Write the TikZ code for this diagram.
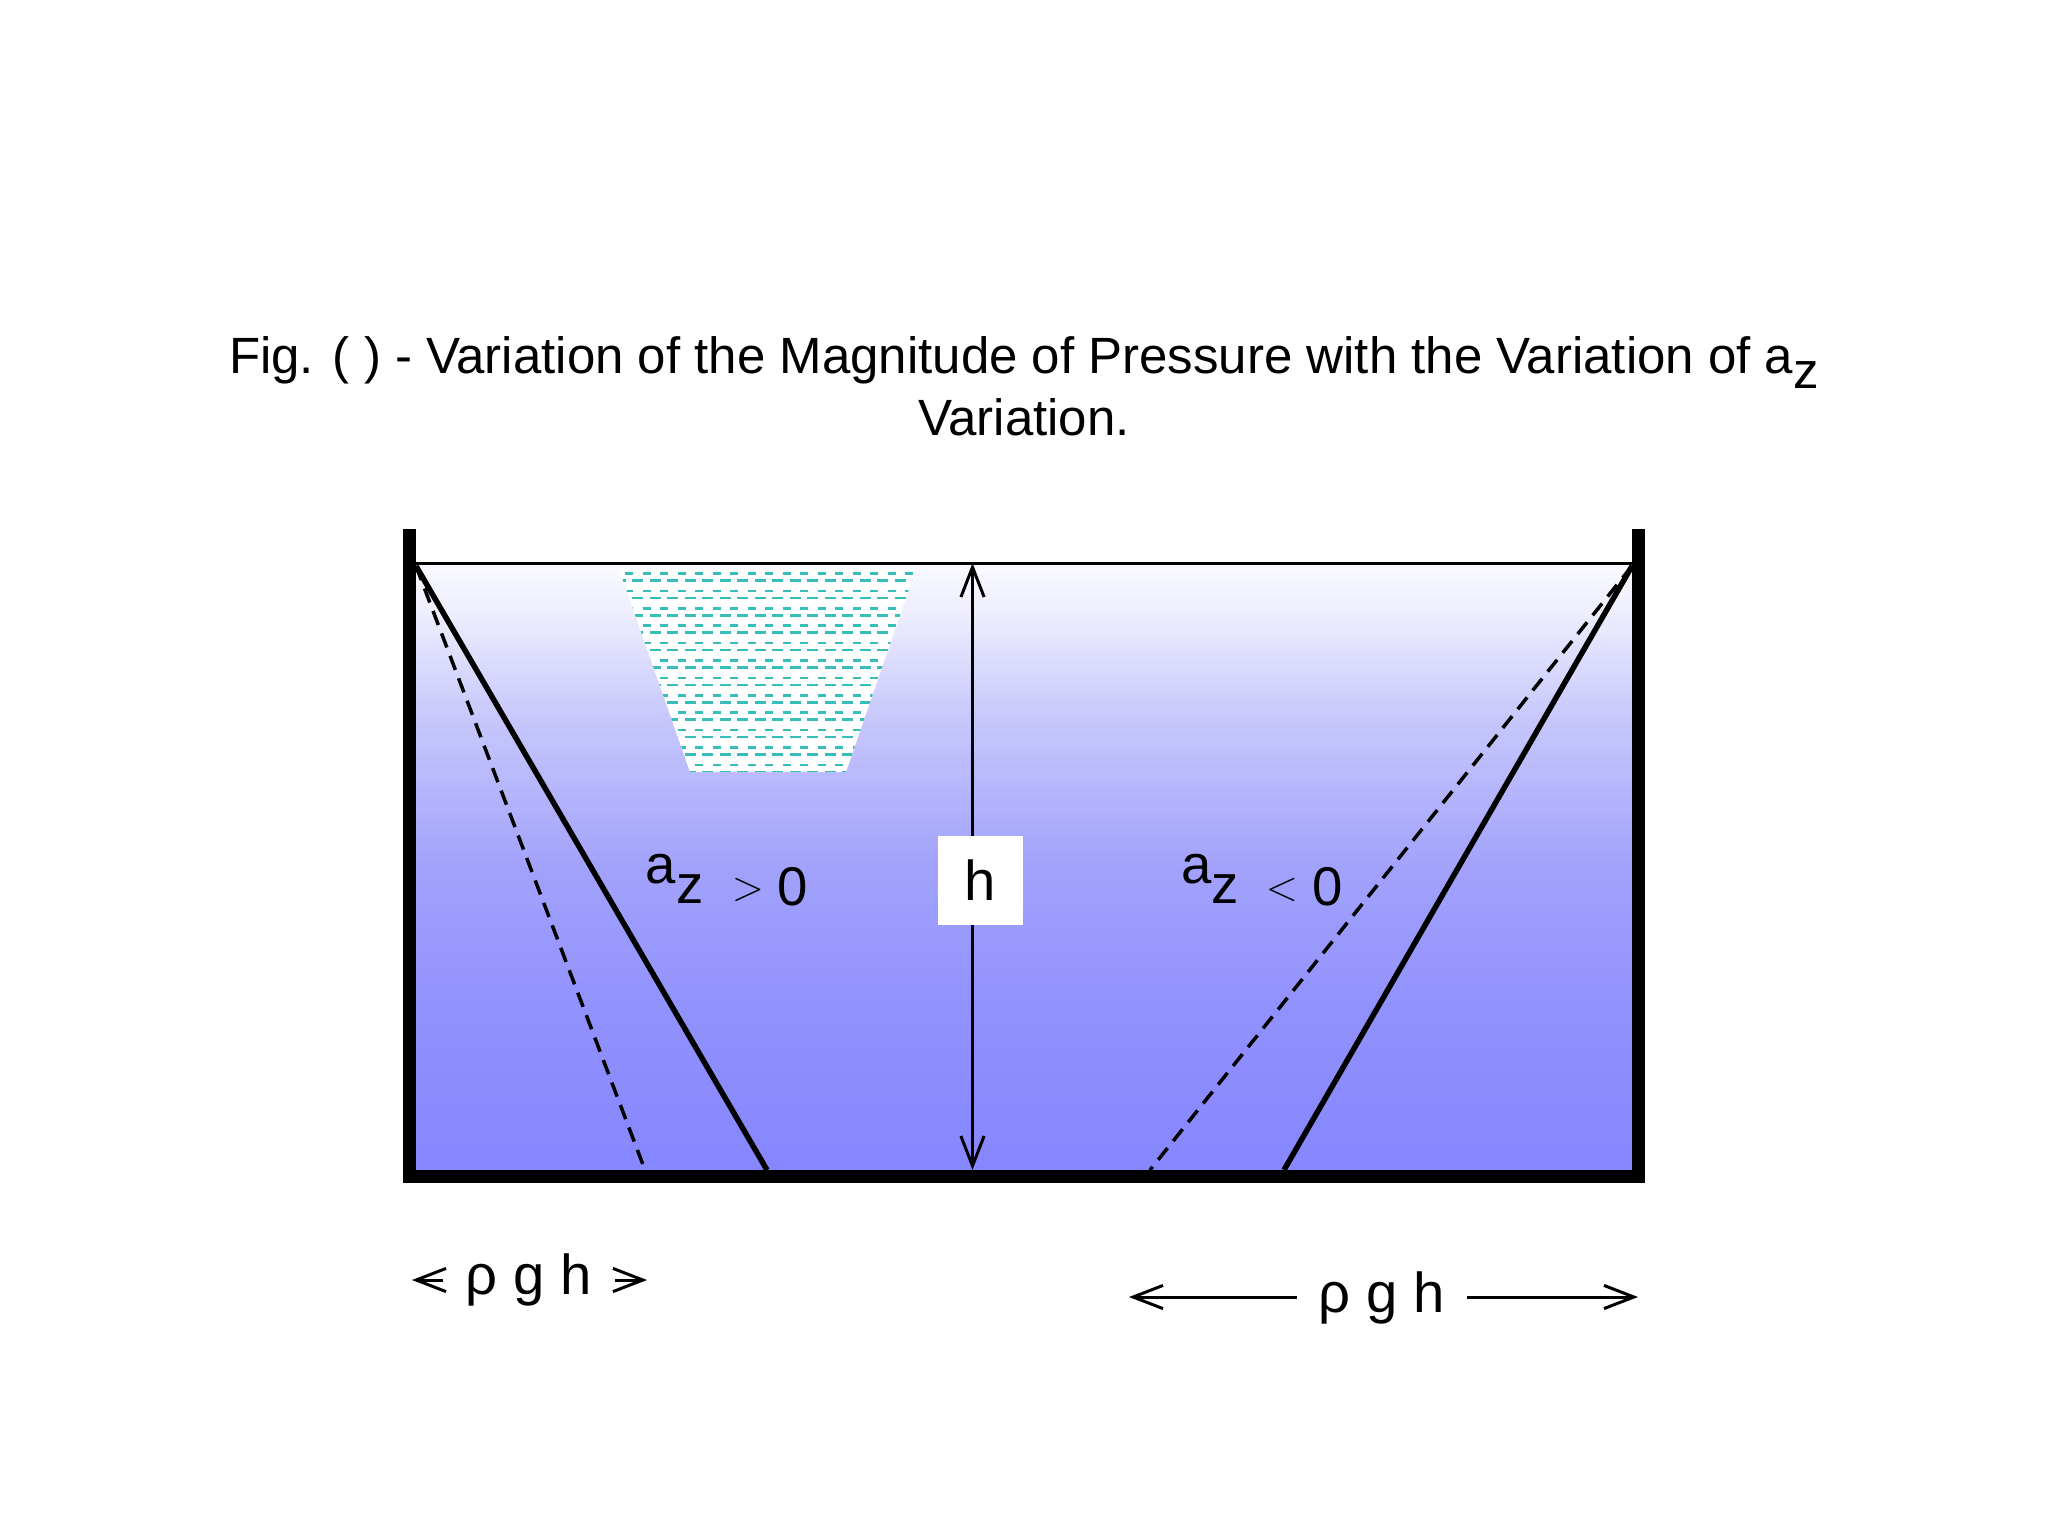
\documentclass[tikz,border=0pt]{standalone}
\usepackage{fontspec}
\setmainfont{Liberation Sans}
\usetikzlibrary{arrows.meta}
\definecolor{wc0}{RGB}{250,250,255}
\definecolor{wc1}{RGB}{238,238,254}
\definecolor{wc2}{RGB}{200,200,252}
\definecolor{wc3}{RGB}{162,162,252}
\definecolor{wc4}{RGB}{144,144,254}
\definecolor{wc5}{RGB}{134,134,255}
\definecolor{hatchc}{RGB}{56,190,184}
\pgfdeclareverticalshading{watershade}{100bp}{color(0bp)=(wc5); color(25bp)=(wc5); color(37.5bp)=(wc4); color(50bp)=(wc3); color(62.5bp)=(wc2); color(71bp)=(wc1); color(75bp)=(wc0); color(100bp)=(wc0)}
\tikzset{
  wall/.style={line width=3.7pt, line cap=butt, line join=miter},
  surf/.style={line width=0.85pt},
  presline/.style={line width=1.56pt},
  presdash/.style={line width=1pt, dash pattern=on 4.27pt off 2.56pt},
  hatchA/.style={hatchc, line width=0.72pt, dash pattern=on 2.28pt off 2.7pt},
  hatchB/.style={hatchc, line width=0.72pt, dash pattern=on 3.13pt off 1.85pt},
  tipb/.tip={Straight Barb[length=8.5pt,width=6.6pt]},
  dimarrow/.style={line width=0.85pt, tipb-tipb},
  onearrow/.style={line width=0.85pt, -tipb},
  titletext/.style={inner sep=0pt, font=\fontsize{14.5}{17}\selectfont},
  lbl/.style={inner sep=0pt, font=\fontsize{15.5}{18}\selectfont},
  sym/.style={inner sep=0pt, font=\fontsize{13}{16}\selectfont},
  pgh/.style={inner sep=0pt, font=\fontsize{16}{19}\selectfont},
}
\begin{document}
\begin{tikzpicture}[x=0.01cm,y=-0.01cm]
\useasboundingbox (0,0) rectangle (2048,1536);

% title
\node[titletext, anchor=base] (title1) at (1024,373) {Fig. ( ) - Variation of the Magnitude of Pressure with the Variation of a\raisebox{-4.27pt}{z}};
\node[titletext, anchor=base] (title2) at (1024,435) {Variation.};

% water with gradient
\shade[shading=watershade] (409,563) rectangle (1638,1172);

% trapezoid with dashed hatching
\fill[white] (619,569) -- (916,569) -- (846,772) -- (690,772) -- cycle;
\begin{scope}
  \clip (619,569) -- (916,569) -- (846,772) -- (690,772) -- cycle;
  \foreach \m in {0,...,11} {
    \pgfmathsetmacro\ya{573.5+\m*17.4}
    \pgfmathsetmacro\yb{580.5+\m*17.4}
    \draw[hatchA] (590,\ya) -- (930,\ya);
    \draw[hatchB] (597.25,\yb) -- (930,\yb);
  }
\end{scope}

% key points
\coordinate (wlTop) at (409.5,529);
\coordinate (wlBot) at (409.5,1176.5);
\coordinate (wrBot) at (1638,1176.5);
\coordinate (wrTop) at (1638,529);
\coordinate (sL) at (416,563);
\coordinate (sR) at (1632,563);
\coordinate (cL) at (416,566);
\coordinate (cR) at (1632,566);
\coordinate (pL) at (767,1170);
\coordinate (dL) at (645,1170);
\coordinate (pR) at (1284,1170);
\coordinate (dR) at (1150,1170);
\coordinate (hTop) at (972.5,563);
\coordinate (hBot) at (972.5,1170);

% surface line
\draw[surf] (sL) -- (sR);

% pressure lines
\draw[presdash] (cL) -- (dL);
\draw[presline] (cL) -- (pL);
\draw[presdash] (cR) -- (dR);
\draw[presline] (cR) -- (pR);

% h dimension
\draw[dimarrow] (hTop) -- (hBot);
\node[fill=white, minimum width=24.2pt, minimum height=25.3pt, inner sep=0pt,
      font=\fontsize{16}{19}\selectfont] (hbox) at (980.5,880.5) {h};

% tank walls
\draw[wall] (wlTop) -- (wlBot) -- (wrBot) -- (wrTop);

% labels a_z > 0
\node[lbl, anchor=base west] (la) at (645,883) {a};
\node[lbl, anchor=base west] (lz) at (676,903) {z};
\node[sym] (lgt) at (748,890) {$>$};
\node[lbl, anchor=base west] (l0) at (777,905) {0};
% labels a_z < 0
\node[lbl, anchor=base west] (ra) at (1181,883) {a};
\node[lbl, anchor=base west] (rz) at (1211,903) {z};
\node[sym] (rlt) at (1282,890) {$<$};
\node[lbl, anchor=base west] (r0) at (1312,905) {0};

% bottom left rho g h
\node[pgh, anchor=base west] (pghL) at (465,1294) {ρ g h};
\coordinate (aL1) at (443,1280);
\coordinate (aL2) at (412,1280);
\coordinate (aL3) at (615,1280);
\coordinate (aL4) at (647,1280);
\draw[onearrow] (aL1) -- (aL2);
\draw[onearrow] (aL3) -- (aL4);

% bottom right rho g h
\node[pgh, anchor=base west] (pghR) at (1318,1312) {ρ g h};
\coordinate (bR1) at (1297,1297);
\coordinate (bR2) at (1129,1297);
\coordinate (bR3) at (1467,1297);
\coordinate (bR4) at (1638,1297);
\draw[onearrow] (bR1) -- (bR2);
\draw[onearrow] (bR3) -- (bR4);
\end{tikzpicture}
\end{document}
